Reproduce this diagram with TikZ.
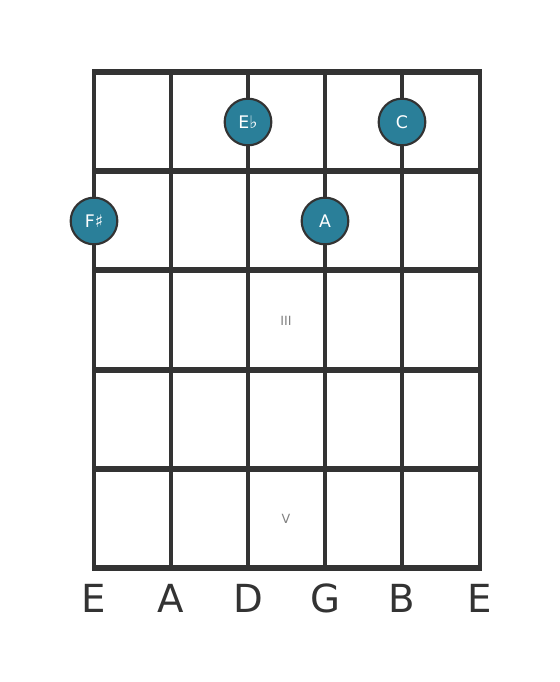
\documentclass[tikz,border=0pt]{standalone}
\usepackage{fontspec}
\setmainfont{DejaVu Sans}
\definecolor{gridgray}{HTML}{333333}
\definecolor{noteteal}{HTML}{2A7F99}
\tikzset{
  fret/.style={gridgray, line width=3.8pt, line cap=rect},
  gstring/.style={gridgray, line width=2.3pt},
  note/.style={circle, minimum size=35pt, inner sep=0pt, fill=noteteal, draw=gridgray, line width=1.6pt, text=white, font=\fontsize{13}{13}\selectfont},
  strname/.style={text=gridgray, font=\fontsize{29}{29}\selectfont},
  fretnum/.style={text=gray, font=\fontsize{9.5}{9.5}\selectfont}
}
\begin{document}
\begin{tikzpicture}[x=0.75pt, y=-0.75pt]
\useasboundingbox (0,0) rectangle (560,682);
% strings
\foreach \s/\x in {0/94,1/171,2/248,3/325,4/402,5/480}{
  \coordinate (st\s) at (\x,72);
  \coordinate (sb\s) at (\x,568);
  \draw[gstring] (st\s) -- (sb\s);
}
% frets
\foreach \f/\y in {0/72,1/171,2/270,3/370,4/469,5/568}{
  \coordinate (fl\f) at (95,\y);
  \coordinate (fr\f) at (479,\y);
  \draw[fret] (fl\f) -- (fr\f);
}
% fret numbers
\node[fretnum] (num3) at (286,321){III};
\node[fretnum] (num5) at (286,519){V};
% notes
\node[note] (nEb) at (248,122){E♭};
\node[note] (nC) at (402,122){C};
\node[note] (nFs) at (94,221){F♯};
\node[note] (nA) at (325,221){A};
% string names
\node[strname] (lE1) at (94,598){E};
\node[strname] (lA) at (171,598){A};
\node[strname] (lD) at (248,598){D};
\node[strname] (lG) at (325,598){G};
\node[strname] (lB) at (402,598){B};
\node[strname] (lE2) at (480,598){E};
\end{tikzpicture}
\end{document}
